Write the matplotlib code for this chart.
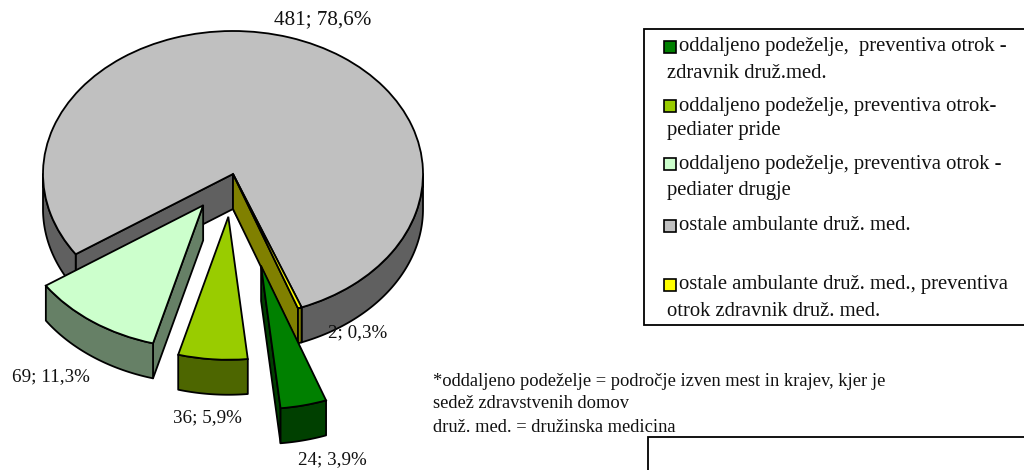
import numpy as np
import matplotlib
matplotlib.use("Agg")
import matplotlib.pyplot as plt
from matplotlib.patches import Polygon, Rectangle

plt.rcParams['font.family'] = ['Liberation Serif', 'DejaVu Serif']

categories = [
    "oddaljeno podeželje,  preventiva otrok -\nzdravnik druž.med.",
    "oddaljeno podeželje, preventiva otrok-\npediater pride",
    "oddaljeno podeželje, preventiva otrok -\npediater drugje",
    "ostale ambulante druž. med.",
    "ostale ambulante druž. med., preventiva\notrok zdravnik druž. med.",
]
values = [24, 36, 69, 481, 2]
explode = [0.66, 0.30, 0.27, 0, 0]
top_colors = ["#008000", "#99CC00", "#CCFFCC", "#C0C0C0", "#FFFF00"]
side_colors = ["#004000", "#4D6600", "#668066", "#606060", "#808000"]
draw_order = [3, 4, 2, 1, 0]
label_pos = [(332, 460), (207, 418), (51, 377), (323, 20), (358, 333)]
label_size = [13.7, 13.7, 13.7, 15.2, 13.7]
legend_y = [(47, 73), (106, 131), (164, 190), (226,), (285, 311)]
footnotes = ["*oddaljeno podeželje = področje izven mest in krajev, kjer je",
             "sedež zdravstvenih domov",
             "druž. med. = družinska medicina"]
footnote_y = [381, 404, 427]

W, H = 1024, 470
CX, CY, RX, RY, DEPTH = 233, 174, 190, 143, 35

fig = plt.figure(figsize=(W / 100, H / 100), dpi=100)
ax = fig.add_axes([0, 0, 1, 1])
wedges, _ = ax.pie(values, explode=explode, startangle=-70, counterclock=False,
                   colors=top_colors, radius=1,
                   wedgeprops=dict(edgecolor="black", linewidth=1.3))
ax.set_aspect("auto")
ax.set_xlim(-CX / RX, (W - CX) / RX)
ax.set_ylim((CY - H) / RY, CY / RY)
d = DEPTH / RY
LW = 1.3


def pt(c, t):
    return np.array([c[0] + np.cos(np.radians(t)), c[1] + np.sin(np.radians(t))])


for z, i in enumerate(draw_order):
    w = wedges[i]
    base = 10 * (z + 1)
    c = np.array(w.center)
    t1, t2 = w.theta1, w.theta2
    w.set_zorder(base + 5)
    # cut faces: visible when the outward normal points downward on screen
    for t, sgn in ((t1, -1), (t2, 1)):
        nrm_y = sgn * np.cos(np.radians(t))
        if nrm_y < 0:
            p = pt(c, t)
            poly = [c, p, p - [0, d], c - [0, d]]
            ax.add_patch(Polygon(poly, closed=True, fc=side_colors[i], ec="black",
                                 lw=LW, zorder=base + 1, joinstyle="round"))
    # outer wall, split over the lower half of the rim
    for shift in (-720, -360, 0, 360, 720):
        a, b = max(t1 + shift, 180), min(t2 + shift, 360)
        if b > a:
            ts = np.linspace(a, b, 80)
            rim = np.column_stack([c[0] + np.cos(np.radians(ts)),
                                   c[1] + np.sin(np.radians(ts))])
            poly = np.vstack([rim, (rim - [0, d])[::-1]])
            ax.add_patch(Polygon(poly, closed=True, fc=side_colors[i], ec="black",
                                 lw=LW, zorder=base + 2, joinstyle="round"))

ov = fig.add_axes([0, 0, 1, 1], zorder=5)
ov.set_xlim(0, W)
ov.set_ylim(H, 0)
ov.axis("off")
ov.patch.set_alpha(0)

total = sum(values)
for v, (x, y), fs in zip(values, label_pos, label_size):
    s = f"{v}; {100 * v / total:.1f}%".replace(".", ",")
    ov.text(x, y, s, ha="center", va="center", fontsize=fs, color="#111111")

ov.add_patch(Rectangle((644, 29), 400, 296, fc="white", ec="black", lw=1.3))
for cat, col, ys in zip(categories, top_colors, legend_y):
    lines = cat.split("\n")
    ov.add_patch(Rectangle((664, ys[0] - 6), 12, 12, fc=col, ec="black", lw=1.2, zorder=3))
    for k, (line, y) in enumerate(zip(lines, ys)):
        ov.text(679 if k == 0 else 667, y, line, ha="left", va="center",
                fontsize=14.9, zorder=3, color="#111111")

for line, y in zip(footnotes, footnote_y):
    ov.text(433, y, line, ha="left", va="center", fontsize=13.3, color="#111111")
ov.add_patch(Rectangle((648, 437), 400, 60, fc="white", ec="black", lw=1.3))

fig.savefig("out.png", dpi=100, facecolor="white")
